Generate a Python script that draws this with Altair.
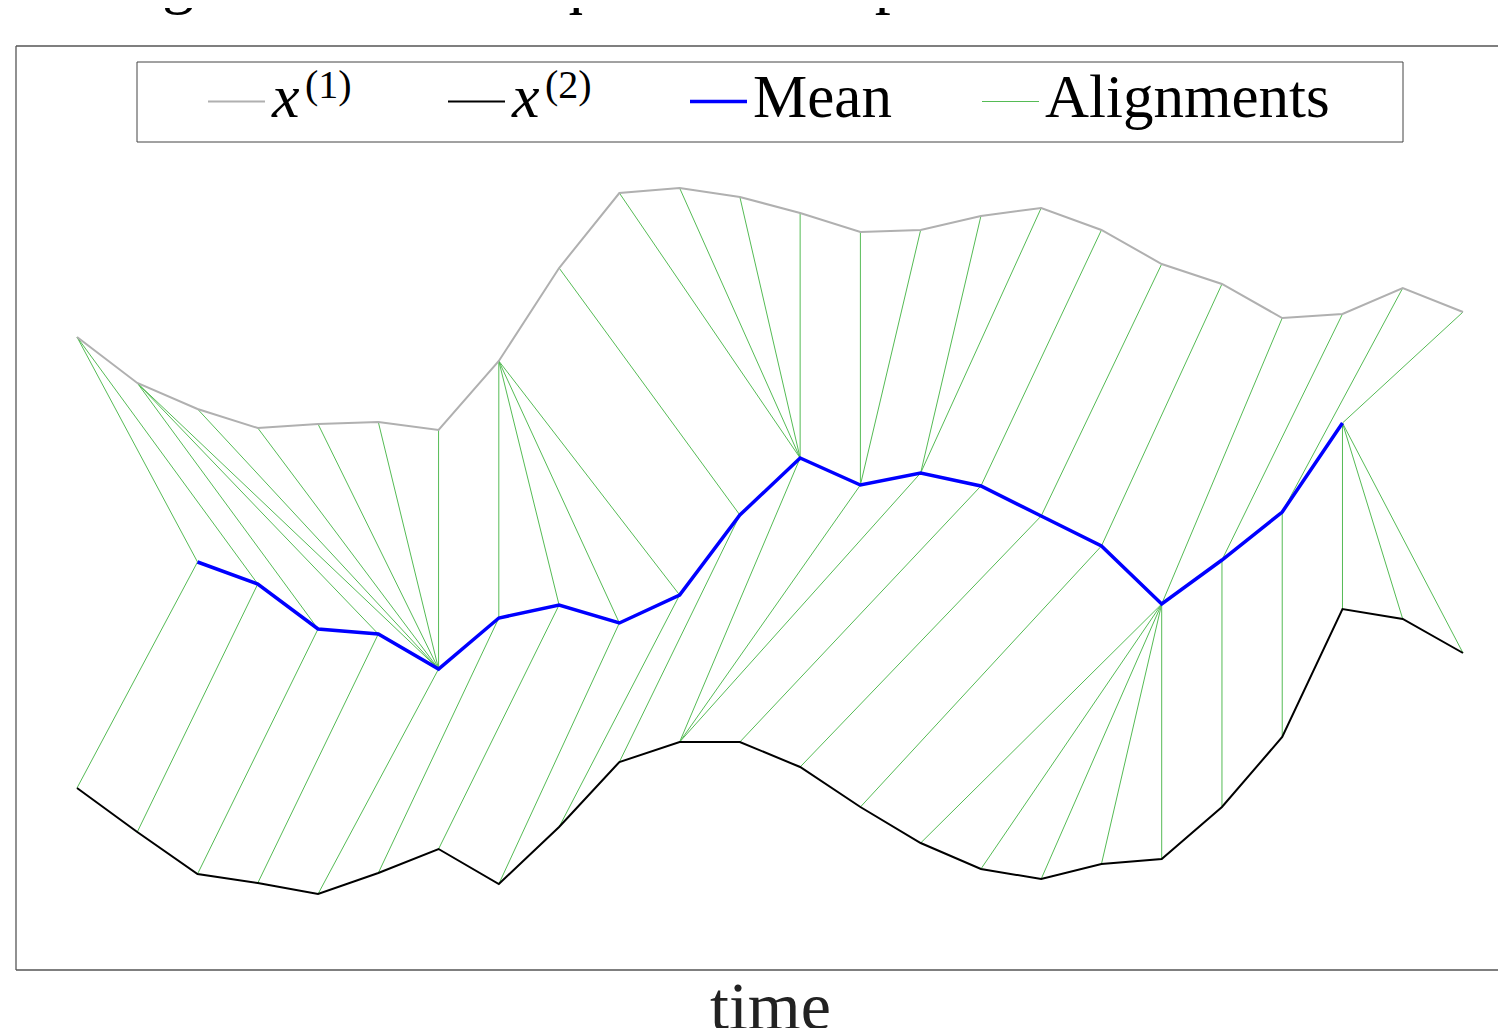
import altair as alt
import pandas as pd

# ---------------- data ----------------
t_series = list(range(24))
x1_vals = [6.33, 5.87, 5.61, 5.42, 5.46, 5.48, 5.40, 6.09, 7.02, 7.77, 7.82, 7.73,
           7.57, 7.38, 7.40, 7.54, 7.62, 7.40, 7.06, 6.86, 6.52, 6.56, 6.82, 6.58]
x2_vals = [1.82, 1.38, 0.96, 0.87, 0.76, 0.97, 1.21, 0.86, 1.43, 2.08, 2.28, 2.28,
           2.03, 1.63, 1.27, 1.01, 0.91, 1.06, 1.11, 1.63, 2.33, 3.61, 3.51, 3.17]
mean_t = list(range(2, 22))
mean_vals = [4.08, 3.86, 3.41, 3.36, 3.01, 3.52, 3.65, 3.47, 3.75, 4.55,
             5.12, 4.85, 4.97, 4.84, 4.54, 4.24, 3.66, 4.10, 4.58, 5.47]

# alignment pairs: (time index in x(1), time index in mean)
align_x1_mean = [(0, 2), (0, 3), (1, 4), (1, 5), (1, 6), (2, 6), (3, 6), (4, 6), (5, 6),
                 (6, 6), (7, 7), (7, 8), (7, 9), (7, 10), (8, 11), (9, 12), (10, 12),
                 (11, 12), (12, 12), (13, 13), (14, 13), (15, 14), (16, 14), (17, 15),
                 (18, 16), (19, 17), (20, 18), (21, 19), (22, 20), (23, 21)]
# alignment pairs: (time index in mean, time index in x(2))
align_mean_x2 = [(2, 0), (3, 1), (4, 2), (5, 3), (6, 4), (7, 5), (8, 6), (9, 7), (10, 8),
                 (11, 9), (12, 10), (13, 10), (14, 10), (15, 11), (16, 12), (17, 13),
                 (18, 14), (18, 15), (18, 16), (18, 17), (18, 18), (19, 19), (20, 20),
                 (21, 21), (21, 22), (21, 23)]

legend_names = ["x", "x", "Mean", "Alignments"]
legend_sups = ["(1)", "(2)", "", ""]

title_text = "Clustering tasks often require to compute a mean."
x_title = "time"

# ---------------- styles / layout ----------------
W, H = 1482, 924
C_X1, C_X2, C_MEAN, C_AL = "#b0b0b0", "#000000", "#0000ff", "#55bb55"
SERIF = "Liberation Serif"

xs = alt.Scale(domain=[-1.01226, 23.5807], nice=False, zero=False)
ys = alt.Scale(domain=[0, 9.24], nice=False, zero=False)
xaxis = alt.Axis(title=x_title, labels=False, ticks=False, domain=False, grid=False,
                 titleFont=SERIF, titleFontSize=68, titleFontWeight="normal",
                 titleColor="#222222", titleBaseline="alphabetic", titleY=58,
                 titleX=754, titleAlign="center")

mean_lookup = dict(zip(mean_t, mean_vals))
rows = []
for i, j in align_x1_mean:
    rows.append({"ta": i, "va": x1_vals[i], "tb": j, "vb": mean_lookup[j]})
for j, k in align_mean_x2:
    rows.append({"ta": j, "va": mean_lookup[j], "tb": k, "vb": x2_vals[k]})
df_align = pd.DataFrame(rows)

df_x1 = pd.DataFrame({"t": t_series, "v": x1_vals})
df_x2 = pd.DataFrame({"t": t_series, "v": x2_vals})
df_mean = pd.DataFrame({"t": mean_t, "v": mean_vals})

align = alt.Chart(df_align).mark_rule(color=C_AL, strokeWidth=1).encode(
    x=alt.X("ta:Q", scale=xs, axis=xaxis),
    y=alt.Y("va:Q", scale=ys, axis=None),
    x2="tb:Q", y2="vb:Q")


def series(df, color, width):
    return alt.Chart(df).mark_line(color=color, strokeWidth=width).encode(
        x=alt.X("t:Q", scale=xs, axis=xaxis),
        y=alt.Y("v:Q", scale=ys, axis=None))


line_x1 = series(df_x1, C_X1, 2)
line_x2 = series(df_x2, C_X2, 2)
line_mean = series(df_mean, C_MEAN, 3.5)

one = pd.DataFrame({"a": [0]})
FRAME = "#555555"
frame_top = alt.Chart(one).mark_rule(color=FRAME, strokeWidth=1.3).encode(
    x=alt.value(0), x2=alt.value(W), y=alt.value(0))
frame_bottom = alt.Chart(one).mark_rule(color=FRAME, strokeWidth=1.3).encode(
    x=alt.value(0), x2=alt.value(W), y=alt.value(H))
frame_left = alt.Chart(one).mark_rule(color=FRAME, strokeWidth=1.3).encode(
    x=alt.value(0), y=alt.value(0), y2=alt.value(H))

# legend box
leg_box = alt.Chart(one).mark_rect(fill="white", stroke="#444444", strokeWidth=1).encode(
    x=alt.value(121), x2=alt.value(1387), y=alt.value(16), y2=alt.value(96))

leg_layers = [leg_box]
sample_x0 = [192, 432, 674, 966]
colors = [C_X1, C_X2, C_MEAN, C_AL]
widths = [2, 2, 3.5, 1]
for name, sup, x0, col, wd in zip(legend_names, legend_sups, sample_x0, colors, widths):
    leg_layers.append(alt.Chart(one).mark_rule(color=col, strokeWidth=wd).encode(
        x=alt.value(x0), x2=alt.value(x0 + 57), y=alt.value(55.5)))
    if sup:
        leg_layers.append(alt.Chart(one).mark_text(
            text=name, font=SERIF, fontStyle="italic", fontSize=62, align="left",
            baseline="alphabetic", color="black").encode(
            x=alt.value(x0 + 64), y=alt.value(71)))
        leg_layers.append(alt.Chart(one).mark_text(
            text=sup, font=SERIF, fontSize=40, align="left",
            baseline="alphabetic", color="black").encode(
            x=alt.value(x0 + 97), y=alt.value(52)))
    else:
        leg_layers.append(alt.Chart(one).mark_text(
            text=name, font=SERIF, fontSize=61, align="left",
            baseline="alphabetic", color="black").encode(
            x=alt.value(x0 + 63), y=alt.value(71)))

title_frag = alt.Chart(one).mark_text(
    text=title_text, font=SERIF, fontSize=64, align="right", baseline="alphabetic",
    color="black").encode(x=alt.value(1184), y=alt.value(-45))

chart = alt.layer(align, line_x1, line_x2, line_mean, frame_top, frame_bottom, frame_left,
                  *leg_layers, title_frag).properties(
    width=W, height=H,
    padding={"left": 8, "top": 38, "right": 0, "bottom": 58},
    autosize=alt.AutoSizeParams(type="none"),
    background="white",
).configure_view(stroke=None)

chart.save("out.html", embed_options={"renderer": "svg", "actions": False})
